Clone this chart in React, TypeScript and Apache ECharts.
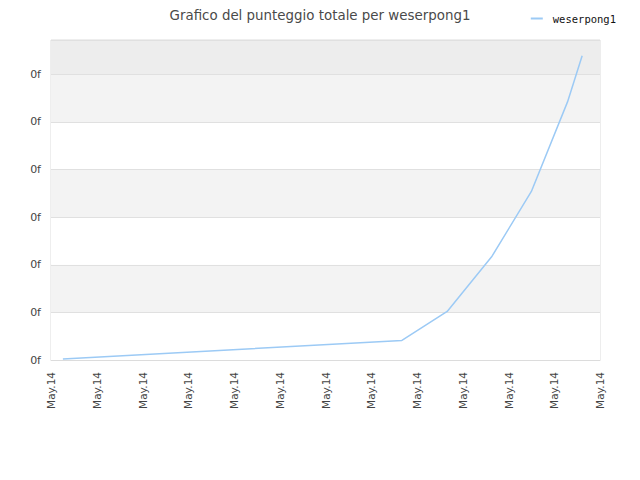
import React, { useEffect, useRef } from "react";
import * as echarts from "echarts";

// positions along the x axis (in tick units) and the score at each point (in grid units)
const xPoints = [0.26, 7.67, 8.66, 9.64, 10.5, 11.29, 11.61];
const yValues = [0.02, 0.41, 1.02, 2.18, 3.54, 5.42, 6.39];
const xTickLabel = "May.14";
const yTickLabel = "0f";
const seriesName = "weserpong1";

const App = () => {
  const chartRef = useRef<HTMLDivElement | null>(null);

  useEffect(() => {
    document.body.style.margin = "0";
    const chart = echarts.init(chartRef.current as HTMLDivElement, undefined, { renderer: "svg" });
    const options = {
      animation: false,
      title: {
        text: "Grafico del punteggio totale per weserpong1",
        left: "center",
        top: 4,
        textStyle: { fontFamily: "DejaVu Sans", fontSize: 13.4, fontWeight: "normal", color: "#4a4a4a" },
      },
      legend: {
        right: 19,
        top: 8,
        icon: "rect",
        itemWidth: 12,
        itemHeight: 2,
        itemGap: 5,
        textStyle: { fontFamily: "DejaVu Sans Mono", fontSize: 10.5, color: "#111", padding: [0, 0, 0, 5] },
        data: [seriesName],
      },
      grid: {
        left: 51,
        right: 40,
        top: 40,
        bottom: 120,
        show: true,
        borderColor: "#dcdcdc",
        borderWidth: 1,
      },
      xAxis: {
        type: "value",
        min: 0,
        max: 12,
        interval: 1,
        axisLine: { lineStyle: { color: "#dcdcdc" } },
        axisTick: { show: false },
        splitLine: { show: false },
        axisLabel: {
          rotate: 90,
          margin: 12,
          formatter: () => xTickLabel,
          fontFamily: "DejaVu Sans",
          fontSize: 10.5,
          color: "#444",
        },
      },
      yAxis: {
        type: "value",
        min: 0,
        max: 6.72,
        interval: 1,
        axisLine: { show: false },
        axisTick: { show: false },
        splitLine: { lineStyle: { color: "#e0e0e0" } },
        splitArea: {
          show: true,
          areaStyle: {
            color: ["#ffffff", "#f3f3f3", "#ffffff", "#f3f3f3", "#ffffff", "#f3f3f3", "#ededed"],
          },
        },
        axisLabel: {
          margin: 10,
          showMaxLabel: false,
          formatter: () => yTickLabel,
          fontFamily: "DejaVu Sans",
          fontSize: 11,
          color: "#444",
        },
      },
      series: [
        {
          name: seriesName,
          type: "line",
          showSymbol: false,
          data: xPoints.map((x, i) => [x, yValues[i]]),
          lineStyle: { color: "#9ccaf5", width: 1.5 },
          itemStyle: { color: "#9ccaf5" },
        },
      ],
    };
    chart.setOption(options);
    return () => {
      chart.dispose();
    };
  }, []);

  return <div ref={chartRef} style={{ width: 640, height: 480 }}></div>;
};

export default App;
